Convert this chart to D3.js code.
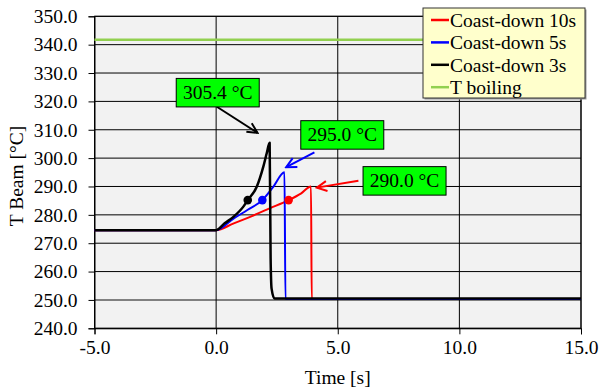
<!DOCTYPE html>
<html>
<head>
<meta charset="utf-8">
<script src="https://cdn.jsdelivr.net/npm/d3@7"></script>
<style>
  body { margin: 0; background: #fff; }
  svg { display: block; }
  svg text { font-family: "Liberation Serif", "Times New Roman", serif !important; }
</style>
</head>
<body>
<svg id="chart" width="600" height="391"></svg>
<script>
// series data (time [s], temperature [°C])
const timeRed = [-5, 0, 0.7, 1.4, 2.2, 2.98, 3.5, 3.9, 3.93, 15];
const tempRed = [274.6, 274.6, 276.9, 279.3, 282.3, 285.2, 287.6, 290.0, 250.3, 250.3];
const timeBlue = [-5, 0, 0.7, 1.3, 1.9, 2.35, 2.81, 2.85, 15];
const tempBlue = [274.6, 274.6, 278.6, 281.8, 285.2, 289.9, 295.0, 250.3, 250.3];
const timeBlack = [-5, 0, 0.35, 0.71, 1.12, 1.3, 1.67, 1.94, 2.08, 2.2, 2.24, 2.28, 2.4, 15];
const tempBlack = [274.6, 274.6, 277.0, 279.3, 282.9, 285.2, 289.9, 297.0, 301.7, 305.4, 265.0, 254.0, 250.5, 250.5];
const boilingTemp = 341.7;

const markerTimes = [2.98, 1.9, 1.3];
const markerTemps = [285.2, 285.2, 285.2];

const seriesNames = ["Coast-down 10s", "Coast-down 5s", "Coast-down 3s", "T boiling"];
const seriesColors = ["#ff0000", "#0000ff", "#000000", "#92d050"];

// callouts: label, box top-left (time, temp), arrow start and end (time, temp)
const calloutLabels = ["290.0 °C", "295.0 °C", "305.4 °C"];
const calloutBox = [[6.04, 297.0], [3.48, 313.2], [-1.64, 328.1]];
const arrowFrom = [[5.85, 292.0], [4.04, 302.0], [0.03, 318.1]];
const arrowTo = [[4.14, 289.6], [2.88, 296.8], [1.70, 308.9]];

const xTicks = [-5, 0, 5, 10, 15];
const yTicks = [240, 250, 260, 270, 280, 290, 300, 310, 320, 330, 340, 350];

const svg = d3.select("#chart");
const x = d3.scaleLinear().domain([-5, 15]).range([94.5, 581]);
const y = d3.scaleLinear().domain([240, 350]).range([328.3, 16.3]);
const fmt = d => d.toFixed(1);
const fontSize = "19.5px";

// plot background
svg.append("rect")
  .attr("x", x(-5)).attr("y", y(350))
  .attr("width", x(15) - x(-5)).attr("height", y(240) - y(350))
  .attr("fill", "#f2f2f2");

// gridlines
svg.append("g").selectAll("line")
  .data(yTicks)
  .enter().append("line")
  .attr("x1", x(-5)).attr("x2", x(15))
  .attr("y1", d => y(d)).attr("y2", d => y(d))
  .attr("stroke", d => d === 250 ? "#808080" : "#000")
  .attr("stroke-width", d => d === 250 ? 2 : 1);

svg.append("g").selectAll("line")
  .data(xTicks)
  .enter().append("line")
  .attr("x1", d => x(d)).attr("x2", d => x(d))
  .attr("y1", y(240)).attr("y2", y(350))
  .attr("stroke", "#000")
  .attr("stroke-width", 1);

// border
svg.append("rect")
  .attr("x", x(-5)).attr("y", y(350))
  .attr("width", x(15) - x(-5)).attr("height", y(240) - y(350))
  .attr("fill", "none").attr("stroke", "#000").attr("stroke-width", 1);

// axes
const yAxis = d3.axisLeft(y).tickValues(yTicks).tickSize(6).tickPadding(11).tickFormat(fmt);
const xAxis = d3.axisBottom(x).tickValues(xTicks).tickSize(6).tickPadding(6).tickFormat(fmt);

const gy = svg.append("g").attr("transform", `translate(${x(-5)},0)`).call(yAxis);
const gx = svg.append("g").attr("transform", `translate(0,${y(240)})`).call(xAxis);
[gy, gx].forEach(g => {
  g.attr("font-family", null).attr("font-size", null);
  g.select(".domain").attr("stroke", "#000");
  g.selectAll(".tick line").attr("stroke", "#000");
  g.selectAll(".tick text")
    .style("font-size", fontSize)
    .attr("fill", "#000");
});

// axis titles
svg.append("text")
  .attr("x", (x(-5) + x(15)) / 2).attr("y", 384)
  .attr("text-anchor", "middle")
  .style("font-size", fontSize)
  .text("Time [s]");

svg.append("text")
  .attr("transform", "translate(23,176) rotate(-90)")
  .attr("text-anchor", "middle")
  .style("font-size", fontSize)
  .text("T Beam [°C]");

// boiling line
svg.append("line")
  .attr("x1", x(-5)).attr("x2", x(15))
  .attr("y1", y(boilingTemp)).attr("y2", y(boilingTemp))
  .attr("stroke", seriesColors[3]).attr("stroke-width", 2.5);

// data lines
const line = d3.line().x(d => x(d[0])).y(d => y(d[1])).curve(d3.curveMonotoneX);
const series = [
  d3.zip(timeRed, tempRed),
  d3.zip(timeBlue, tempBlue),
  d3.zip(timeBlack, tempBlack)
];

svg.append("g").selectAll("path")
  .data(series)
  .enter().append("path")
  .attr("d", d => line(d))
  .attr("fill", "none")
  .attr("stroke", (d, i) => seriesColors[i])
  .attr("stroke-width", (d, i) => i === 2 ? 2.5 : 2)
  .attr("stroke-linejoin", "round");

// markers
svg.append("g").selectAll("circle")
  .data(markerTimes)
  .enter().append("circle")
  .attr("cx", d => x(d))
  .attr("cy", (d, i) => y(markerTemps[i]))
  .attr("r", 4.3)
  .attr("fill", (d, i) => seriesColors[i]);

// arrow markers
const defs = svg.append("defs");
seriesColors.slice(0, 3).forEach((c, i) => {
  defs.append("marker")
    .attr("id", "arrow" + i)
    .attr("viewBox", "-12 -7 14 14")
    .attr("refX", 0).attr("refY", 0)
    .attr("markerWidth", 14).attr("markerHeight", 14)
    .attr("markerUnits", "userSpaceOnUse")
    .attr("orient", "auto")
    .append("path")
    .attr("d", "M-10,-5 L0,0 L-10,5")
    .attr("fill", "none")
    .attr("stroke", c)
    .attr("stroke-width", 2);
});

// callout boxes
const boxW = 83, boxH = 28.5;
calloutLabels.forEach((lab, i) => {
  svg.append("line")
    .attr("x1", x(arrowFrom[i][0])).attr("y1", y(arrowFrom[i][1]))
    .attr("x2", x(arrowTo[i][0])).attr("y2", y(arrowTo[i][1]))
    .attr("stroke", seriesColors[i]).attr("stroke-width", 2)
    .attr("marker-end", `url(#arrow${i})`);
  const bx = x(calloutBox[i][0]), by = y(calloutBox[i][1]);
  svg.append("rect")
    .attr("x", bx).attr("y", by)
    .attr("width", boxW).attr("height", boxH)
    .attr("fill", "#00ff00").attr("stroke", "#000").attr("stroke-width", 1);
  svg.append("text")
    .attr("x", bx + boxW / 2).attr("y", by + boxH / 2 + 6.5)
    .attr("text-anchor", "middle")
    .style("font-size", fontSize)
    .text(lab);
});

// legend
const legend = svg.append("g").attr("transform", "translate(423,8)");
legend.append("rect")
  .attr("x", 1.5).attr("y", 1.5).attr("width", 162).attr("height", 90)
  .attr("fill", "#999");
legend.append("rect")
  .attr("width", 162).attr("height", 90)
  .attr("fill", "#ffffcc").attr("stroke", "#333").attr("stroke-width", 1);

const items = legend.selectAll("g.item")
  .data(seriesNames)
  .enter().append("g")
  .attr("class", "item")
  .attr("transform", (d, i) => `translate(0,${12 + i * 22.4})`);
items.append("line")
  .attr("x1", 8).attr("x2", 26)
  .attr("stroke", (d, i) => seriesColors[i])
  .attr("stroke-width", 2.5);
items.append("text")
  .attr("x", 27).attr("y", 7)
  .style("font-size", fontSize)
  .text(d => d);
</script>
</body>
</html>
